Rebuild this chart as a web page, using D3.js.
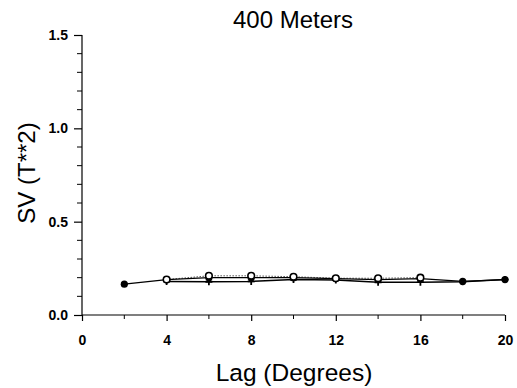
<!DOCTYPE html>
<html>
<head>
<meta charset="utf-8">
<script src="https://cdn.jsdelivr.net/npm/d3@7"></script>
<style>
  html, body { margin: 0; padding: 0; background: #fff; }
  svg { display: block; }
  text { font-family: "Liberation Sans", Arial, sans-serif; fill: #000; }
</style>
</head>
<body>
<svg id="chart" width="517" height="388"></svg>
<script>
// Semivariance vs. lag at 400 m
const lags = [2, 4, 6, 8, 10, 12, 14, 16, 18, 20];
const filledSeries = [0.165, 0.19, 0.20, 0.20, 0.20, 0.195, 0.19, 0.195, 0.18, 0.19];
const openSeries   = [null, 0.19, 0.21, 0.21, 0.205, 0.197, 0.197, 0.20, null, null];
const plusSeries   = [null, 0.18, 0.178, 0.18, 0.19, 0.187, 0.175, 0.176, 0.178, 0.19];
const xTicks = [0, 4, 8, 12, 16, 20];
const yTicks = [0.0, 0.5, 1.0, 1.5];

const svg = d3.select("#chart");
const x = d3.scaleLinear().domain([0, 20]).range([82, 505]);
const y = d3.scaleLinear().domain([0, 1.5]).range([315, 35]);

// Axes
const xAxis = d3.axisBottom(x).tickValues(xTicks).tickSize(6).tickPadding(14)
  .tickFormat(d3.format("d"));
const gx = svg.append("g").attr("transform", "translate(0,315)").call(xAxis);
gx.select(".domain").attr("d", `M${x(0)},0H${x(20)}`);
const xMinor = d3.range(2, 20, 4);
gx.selectAll(".minor").data(xMinor).enter().append("line")
  .attr("x1", d => x(d)).attr("x2", d => x(d)).attr("y1", 0).attr("y2", 4)
  .attr("stroke", "#000");

const yAxis = d3.axisLeft(y).tickValues(yTicks).tickSize(8).tickPadding(6)
  .tickFormat(d3.format(".1f"));
const gy = svg.append("g").attr("transform", "translate(82,0)").call(yAxis);
gy.select(".domain").attr("d", `M0,${y(0)}V${y(1.5)}`);
const yMinor = d3.range(0.1, 1.5, 0.1).filter(v => Math.abs(v * 2 - Math.round(v * 2)) > 1e-6);
gy.selectAll(".minor").data(yMinor).enter().append("line")
  .attr("x1", 0).attr("x2", -5).attr("y1", d => y(d)).attr("y2", d => y(d))
  .attr("stroke", "#000");

svg.selectAll(".tick text")
  .style("font-size", "14px").style("font-weight", "bold")
  .style("font-family", "'Liberation Sans', Arial, sans-serif");
svg.selectAll(".domain, .tick line").attr("stroke", "#000").attr("stroke-width", 1.2);

// Titles
svg.append("text").attr("x", 293).attr("y", 28).attr("text-anchor", "middle")
  .style("font-size", "24px").text("400 Meters");
svg.append("text").attr("x", 294).attr("y", 381).attr("text-anchor", "middle")
  .style("font-size", "24.5px").text("Lag (Degrees)");
svg.append("text").attr("transform", "translate(35,173) rotate(-90)")
  .attr("text-anchor", "middle").style("font-size", "24px").text("SV (T**2)");

const line = d3.line().defined(d => d[1] != null).x(d => x(d[0])).y(d => y(d[1]));
const pts = s => lags.map((l, i) => [l, s[i]]);

// Open-circle series, dotted line
svg.append("path").attr("d", line(pts(openSeries))).attr("fill", "none")
  .attr("stroke", "#555").attr("stroke-width", 1).attr("stroke-dasharray", "1.5,1.5");
// Plus series, solid line
svg.append("path").attr("d", line(pts(plusSeries))).attr("fill", "none")
  .attr("stroke", "#000").attr("stroke-width", 1.5);
// Filled-circle series, solid line
svg.append("path").attr("d", line(pts(filledSeries))).attr("fill", "none")
  .attr("stroke", "#000").attr("stroke-width", 1.2);

svg.selectAll(".plus").data(pts(plusSeries).filter(d => d[1] != null)).enter()
  .append("path").attr("d", "M-3.5,0H3.5M0,-3.5V3.5")
  .attr("transform", d => `translate(${x(d[0])},${y(d[1])})`)
  .attr("stroke", "#000").attr("stroke-width", 1.8);

svg.selectAll(".filled").data(pts(filledSeries)).enter().append("circle")
  .attr("cx", d => x(d[0])).attr("cy", d => y(d[1])).attr("r", 3.6)
  .attr("fill", "#000");

svg.selectAll(".open").data(pts(openSeries).filter(d => d[1] != null)).enter()
  .append("circle")
  .attr("cx", d => x(d[0])).attr("cy", d => y(d[1])).attr("r", 3.3)
  .attr("fill", "#fff").attr("stroke", "#000").attr("stroke-width", 1.6);
</script>
</body>
</html>
